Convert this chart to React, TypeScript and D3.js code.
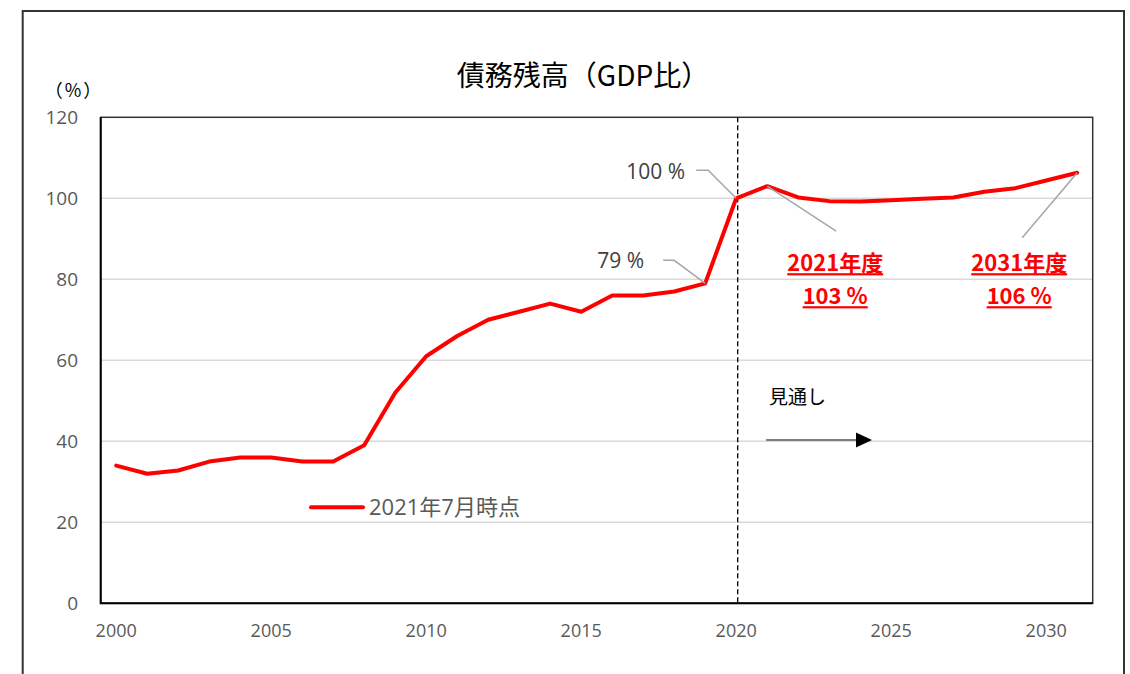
import React, { useEffect, useRef } from "react";
import * as d3 from "d3";

const years: number[] = [
  2000, 2001, 2002, 2003, 2004, 2005, 2006, 2007, 2008, 2009, 2010, 2011,
  2012, 2013, 2014, 2015, 2016, 2017, 2018, 2019, 2020, 2021, 2022, 2023,
  2024, 2025, 2026, 2027, 2028, 2029, 2030, 2031,
];

// 債務残高（GDP比） 2021年7月時点
const debtRatio: number[] = [
  34, 32, 32.8, 35, 36, 36, 35, 35, 39, 52, 61, 66, 70, 72, 74, 72, 76, 76,
  77, 79, 100, 103, 100.2, 99.3, 99.2, 99.5, 99.9, 100.2, 101.6, 102.5,
  104.4, 106.3,
];

const yTicks: number[] = [0, 20, 40, 60, 80, 100, 120];
const xTickYears: number[] = [2000, 2005, 2010, 2015, 2020, 2025, 2030];

const NUM_FONT = "'Open Sans', 'Noto Sans CJK JP', sans-serif";
const JP_FONT = "'Noto Sans CJK JP', 'Open Sans', sans-serif";

const App: React.FC = () => {
  const ref = useRef<SVGSVGElement | null>(null);

  useEffect(() => {
    if (!ref.current) return;
    const svg = d3.select(ref.current);
    svg.selectAll("*").remove();

    const left = 100.7;
    const right = 1092.7;
    const top = 117.3;
    const bottom = 603.3;

    const x = d3.scaleBand<number>().domain(years).range([left, right]);
    const cx = (yr: number) => x(yr)! + x.bandwidth() / 2;

    const y = d3.scaleLinear().domain([0, 120]).range([bottom, top]);

    // 外枠
    svg
      .append("rect")
      .attr("x", 22.7)
      .attr("y", 11)
      .attr("width", 1124 - 22.7)
      .attr("height", 700)
      .attr("fill", "white")
      .attr("stroke", "#333")
      .attr("stroke-width", 2);

    // タイトル
    svg
      .append("text")
      .attr("x", 583)
      .attr("y", 86)
      .attr("text-anchor", "middle")
      .attr("font-family", JP_FONT)
      .attr("font-size", 28)
      .attr("fill", "#000")
      .text("債務残高（GDP比）");

    svg
      .append("text")
      .attr("x", 74)
      .attr("y", 97)
      .attr("text-anchor", "middle")
      .attr("font-family", JP_FONT)
      .attr("font-size", 18)
      .attr("letter-spacing", 2)
      .attr("fill", "#000")
      .text("（%）");

    // グリッド
    svg
      .append("g")
      .selectAll("line")
      .data(yTicks.filter((t) => t > 0 && t < 120))
      .join("line")
      .attr("x1", left)
      .attr("x2", right)
      .attr("y1", (d) => y(d))
      .attr("y2", (d) => y(d))
      .attr("stroke", "#d9d9d9")
      .attr("stroke-width", 1.5);

    // 枠
    svg
      .append("rect")
      .attr("x", left)
      .attr("y", top)
      .attr("width", right - left)
      .attr("height", bottom - top)
      .attr("fill", "none")
      .attr("stroke", "#333")
      .attr("stroke-width", 1.5);
    svg
      .append("path")
      .attr("d", `M${left},${top}V${bottom}H${right}`)
      .attr("fill", "none")
      .attr("stroke", "#000")
      .attr("stroke-width", 2);

    // Y軸ラベル
    svg
      .append("g")
      .selectAll("text")
      .data(yTicks)
      .join("text")
      .attr("x", 78)
      .attr("y", (d) => y(d) + 7)
      .attr("text-anchor", "end")
      .attr("font-size", 19)
      .attr("fill", "#595959")
      .text((d) => d);

    // X軸ラベル
    svg
      .append("g")
      .selectAll("text")
      .data(xTickYears)
      .join("text")
      .attr("x", (d) => cx(d))
      .attr("y", bottom + 34)
      .attr("text-anchor", "middle")
      .attr("font-size", 18)
      .attr("fill", "#595959")
      .text((d) => d);

    // 2020 点線
    svg
      .append("line")
      .attr("x1", cx(2020) + 1.5)
      .attr("x2", cx(2020) + 1.5)
      .attr("y1", top)
      .attr("y2", bottom)
      .attr("stroke", "#000")
      .attr("stroke-width", 1.3)
      .attr("stroke-dasharray", "5,3");

    // 折れ線
    const line = d3
      .line<number>()
      .x((_, i) => cx(years[i]))
      .y((d) => y(d));
    svg
      .append("path")
      .datum(debtRatio)
      .attr("d", line)
      .attr("fill", "none")
      .attr("stroke", "#ff0000")
      .attr("stroke-width", 4)
      .attr("stroke-linejoin", "round")
      .attr("stroke-linecap", "round");

    const val = (yr: number) => debtRatio[years.indexOf(yr)];
    const leader = (pts: [number, number][]) =>
      svg
        .append("path")
        .attr("d", d3.line()(pts))
        .attr("fill", "none")
        .attr("stroke", "#a6a6a6")
        .attr("stroke-width", 1.5);

    // 100 %
    {
      const px = cx(2020);
      const py = y(val(2020));
      leader([
        [px - 40, py - 28],
        [px - 28, py - 28],
        [px, py],
      ]);
      svg
        .append("text")
        .attr("x", px - 51)
        .attr("y", py - 19)
        .attr("text-anchor", "end")
        .attr("font-size", 21)
        .attr("fill", "#404040")
        .text("100 %");
    }
    // 79 %
    {
      const px = cx(2019);
      const py = y(val(2019));
      leader([
        [px - 42, py - 23],
        [px - 31, py - 23],
        [px, py],
      ]);
      svg
        .append("text")
        .attr("x", px - 61)
        .attr("y", py - 15)
        .attr("text-anchor", "end")
        .attr("font-size", 21)
        .attr("fill", "#404040")
        .text("79 %");
    }

    // 赤ラベル
    const redLabel = (xx: number, lines: string[]) => {
      lines.forEach((s, i) => {
        svg
          .append("text")
          .attr("x", xx)
          .attr("y", y(82) + i * 33)
          .attr("text-anchor", "middle")
          .attr("font-family", JP_FONT)
          .attr("font-size", 22)
          .attr("font-weight", "bold")
          .attr("fill", "#ff0000")
          .attr("text-decoration", "underline")
          .text(s);
      });
    };
    {
      const px = cx(2021);
      const py = y(val(2021));
      leader([
        [px, py],
        [px + 69, py + 45],
      ]);
      redLabel(px + 68, ["2021年度", "103 %"]);
    }
    {
      const px = cx(2031);
      const py = y(val(2031));
      leader([
        [px, py],
        [px - 55, py + 65],
      ]);
      redLabel(px - 58, ["2031年度", "106 %"]);
    }

    // 見通し
    svg
      .append("text")
      .attr("x", 769)
      .attr("y", 404)
      .attr("font-family", JP_FONT)
      .attr("font-size", 19)
      .attr("fill", "#000")
      .text("見通し");
    svg
      .append("line")
      .attr("x1", 766)
      .attr("x2", 858)
      .attr("y1", 440)
      .attr("y2", 440)
      .attr("stroke", "#7f7f7f")
      .attr("stroke-width", 2);
    svg
      .append("path")
      .attr("d", "M856,432.5L872,440L856,447.5Z")
      .attr("fill", "#000");

    // 凡例
    svg
      .append("line")
      .attr("x1", 311)
      .attr("x2", 363)
      .attr("y1", 507.3)
      .attr("y2", 507.3)
      .attr("stroke", "#ff0000")
      .attr("stroke-width", 4)
      .attr("stroke-linecap", "round");
    svg
      .append("text")
      .attr("x", 369)
      .attr("y", 515)
      .attr("font-size", 22)
      .attr("fill", "#595959")
      .text("2021年7月時点");
  }, []);

  return (
    <svg
      ref={ref}
      width={1130}
      height={674}
      style={{
        position: "absolute",
        left: 0,
        top: 0,
        fontFamily: NUM_FONT,
        background: "#fff",
      }}
    />
  );
};

export default App;
